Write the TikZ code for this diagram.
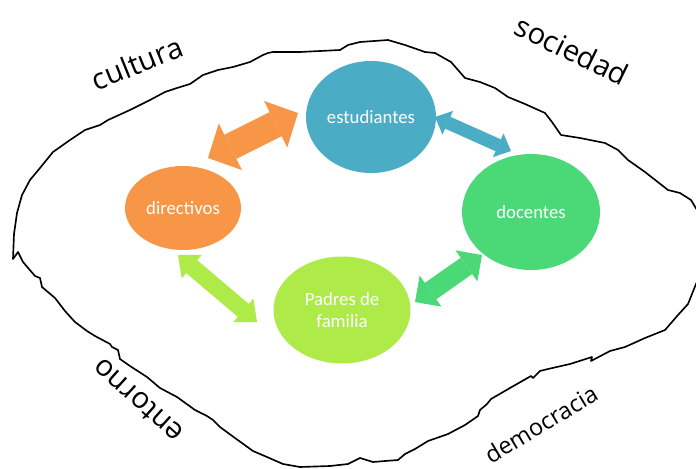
\documentclass[tikz,border=0pt]{standalone}
\usepackage{fontspec}
\setmainfont{Carlito}
\newfontfamily\outerfont{Open Sans}
\usetikzlibrary{shapes.geometric,arrows.meta}
\definecolor{cOrange}{RGB}{247,150,70}
\definecolor{cTeal}{RGB}{75,172,198}
\definecolor{cGreen}{RGB}{74,217,118}
\definecolor{cLime}{RGB}{174,234,72}
\tikzset{
  actor/.style={shape=ellipse, inner sep=0pt, text=white, font=\fontsize{16}{19}\selectfont, align=center},
  dbl/.style n args={3}{line width=#1cm, arrows={Triangle[width=#2cm,length=#3cm,line width=0pt]-Triangle[width=#2cm,length=#3cm,line width=0pt]}},
  outline/.style={line width=1.4pt, line join=round, line cap=round},
  ctx/.style={font=\outerfont\fontsize{25}{30}\selectfont, inner sep=0pt}
}
\begin{document}
\begin{tikzpicture}[x=0.03cm,y=-0.03cm]
\useasboundingbox (0,0) rectangle (696,468);
\clip (0,0) rectangle (696,468);
% outline
\draw[outline]
 (13,259) -- (14,234) -- (17,213) -- (22,195) -- (30,180) -- (40,168) -- (53,152) -- (70,140) -- (85,130) -- (100,125) -- (108,120) -- (130,110) -- (150,100) -- (165,92) -- (177,88) -- (190,84) -- (203,75) -- (218,70) -- (233,67) -- (250,62) -- (263,55) -- (268,53) -- (273,52) -- (300,52) -- (320,51) -- (340,50) -- (348,45) -- (360,42) -- (388,40) -- (405,45) -- (425,52) -- (435,53) -- (451,62) -- (458,70) -- (465,78) -- (480,82) -- (495,88) -- (508,97) -- (525,104) -- (545,113) -- (552,122) -- (561,135) -- (580,138) -- (605,143) -- (618,150) -- (628,160) -- (645,172) -- (668,190) -- (680,193) -- (691,200) -- (700,215)
 -- (704,270) -- (696,284) -- (688,304) -- (678,315) -- (665,330) -- (645,338) -- (625,347) -- (610,351) -- (591,361) -- (592,357) -- (570,364) -- (548,369) -- (540,371) -- (533,378) -- (531,376) -- (510,388) -- (491,399) -- (487,404) -- (480,410) -- (478,416) -- (465,425) -- (448,434) -- (428,441) -- (415,449) -- (405,454) -- (398,460) -- (385,461) -- (373,462) -- (360,458) -- (348,464) -- (330,466) -- (300,467) -- (283,464) -- (267,457) -- (253,451) -- (235,438) -- (220,427) -- (213,420) -- (207,416) -- (195,410) -- (177,397) -- (160,388) -- (147,377) -- (130,366) -- (120,359) -- (118,350) -- (112,347) -- (110,344) -- (95,336) -- (87,331) -- (75,322) -- (65,311) -- (55,298) -- (42,287) -- (40,278) -- (35,276) -- (23,262) -- (18,252) -- cycle;

% context labels
\node[ctx, rotate=22] (cultura) at (137,63) {cultura};
\node[ctx, rotate=-26] (sociedad) at (572,50) {sociedad};
\node[ctx, rotate=138] (entorno) at (138,401) {entorno};
\node[ctx, rotate=31, font=\outerfont\fontsize{20}{24}\selectfont] (democracia) at (541,424) {democracia};

% actors
\node[actor, fill=cTeal, minimum width=3.9cm, minimum height=3.36cm] (est) at (371,117) {estudiantes};
\node[actor, fill=cGreen, minimum width=4.14cm, minimum height=3.48cm] (doc) at (531,212) {docentes};
\node[actor, fill=cOrange, minimum width=3.48cm, minimum height=2.52cm] (dir) at (183,208) {directivos};
\node[actor, fill=cLime, minimum width=4.11cm, minimum height=3.21cm] (pad) at (342,310) {Padres de\\familia};

% arrow end points
\coordinate (o1) at (208,158); \coordinate (o2) at (298,113);
\coordinate (t1) at (435,117); \coordinate (t2) at (511,151);
\coordinate (g1) at (415,302); \coordinate (g2) at (482,255);
\coordinate (l1) at (178,255); \coordinate (l2) at (257,322);

\draw[dbl={0.81}{1.56}{0.75}, cOrange] (o1) -- (o2);
\draw[dbl={0.39}{0.78}{0.42}, cTeal] (t1) -- (t2);
\draw[dbl={0.60}{1.14}{0.57}, cGreen] (g1) -- (g2);
\draw[dbl={0.51}{0.93}{0.54}, cLime] (l1) -- (l2);
\end{tikzpicture}
\end{document}
